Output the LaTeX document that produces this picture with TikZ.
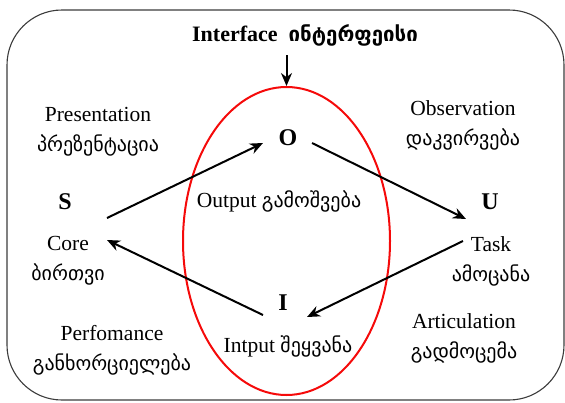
\documentclass[tikz,border=0pt]{standalone}
\usepackage{fontspec}
\usepackage{xcolor}
\usepackage{tikz}
\usetikzlibrary{shapes.geometric, arrows.meta, positioning, calc}
\setmainfont{Liberation Serif}
\newfontfamily\geofont{DejaVu Sans}[Scale=0.93]
\definecolor{framegray}{RGB}{60, 60, 60}
\definecolor{loopred}{RGB}{245, 10, 10}
\tikzset{
    frame/.style = {draw=framegray, line width=1.1pt, rounded corners=55pt},
    ring/.style = {ellipse, draw=loopred, line width=2pt, minimum width=207pt, minimum height=308pt, inner sep=0pt},
    letter/.style = {font=\fontsize{24}{28}\selectfont\bfseries, inner sep=1pt},
    title/.style = {font=\fontsize{22}{26}\selectfont\bfseries, inner sep=1pt},
    lbl/.style = {align=center, font=\fontsize{21.5}{30}\selectfont, inner sep=1pt},
    arrow/.style = {line width=2pt, -{Stealth[length=13pt, width=11pt]}}
}

\begin{document}
\begin{tikzpicture}[x=1pt, y=-1pt]
\useasboundingbox (0,0) rectangle (565,402);
\draw [frame] (7,10) rectangle (564,400);
\node (loop) [ring] at (286.5,241) {};
\node (iface) [title] at (305,35) {Interface\ \ {\geofont ინტერფეისი}};
\node (S) [letter] at (65,202) {S};
\node (O) [letter] at (288,138) {O};
\node (U) [letter] at (490,202) {U};
\node (I) [letter] at (283,303) {I};
\node (pres) [lbl] at (98,132) {Presentation\\{\geofont პრეზენტაცია}};
\node (obs) [lbl] at (463,125) {Observation\\{\geofont დაკვირვება}};
\node (core) [lbl] at (68,261) {Core\\{\geofont ბირთვი}};
\node (task) [lbl] at (491,261) {Task\\{\geofont ამოცანა}};
\node (perf) [lbl] at (112,350) {Perfomance\\{\geofont განხორციელება}};
\node (artic) [lbl] at (464,338) {Articulation\\{\geofont გადმოცემა}};
\node (out) [lbl] at (279,201) {Output {\geofont გამოშვება}};
\node (inp) [lbl] at (288,346) {Intput {\geofont შეყვანა}};

\draw [arrow] (loop.north |- iface.south) ++(0,8) -- (loop.north);
\draw [arrow] ([shift={(42,16)}]S.center) -- ([shift={(-25,5)}]O.center);
\draw [arrow] ([shift={(24,5)}]O.center) -- ([shift={(-24,17)}]U.center);
\draw [arrow] ([shift={(-27,39)}]U.center) -- ([shift={(24,14)}]I.center);
\draw [arrow] ([shift={(-20,12)}]I.center) -- ([shift={(42,38)}]S.center);
\end{tikzpicture}
\end{document}
